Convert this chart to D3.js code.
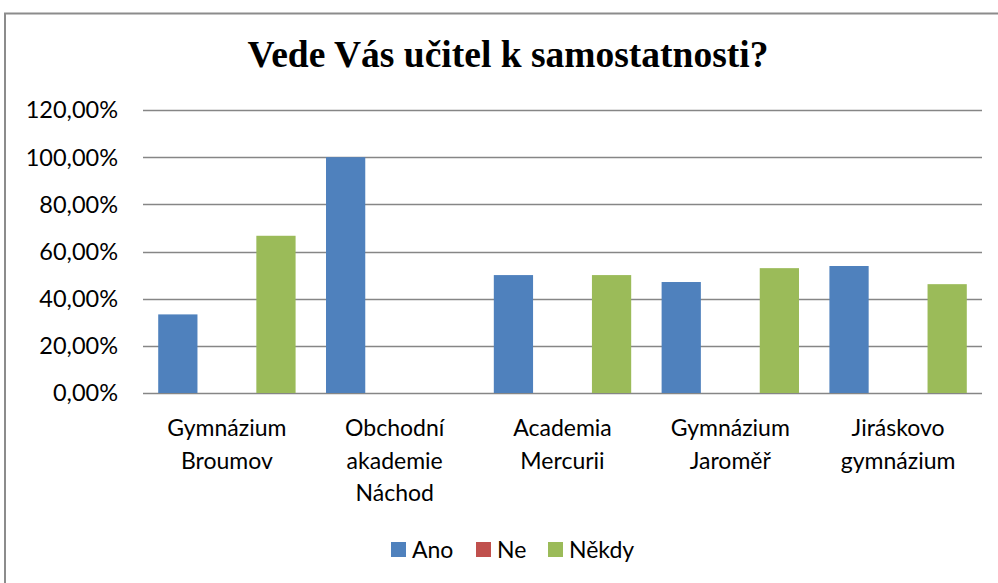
<!DOCTYPE html>
<html>
<head>
<meta charset="utf-8">
<script src="https://cdn.jsdelivr.net/npm/d3@7.9.0/dist/d3.min.js"></script>
<style>
  body { margin: 0; background: #fff; }
  svg { display: block; }
</style>
</head>
<body>
<svg width="998" height="583"></svg>
<script>
const schools = [
  ['Gymnázium', 'Broumov'],
  ['Obchodní', 'akademie', 'Náchod'],
  ['Academia', 'Mercurii'],
  ['Gymnázium', 'Jaroměř'],
  ['Jiráskovo', 'gymnázium']
];
const seriesNames = ['Ano', 'Ne', 'Někdy'];
const ano = [0.3333, 1.0, 0.5, 0.4706, 0.5385];
const ne = [0, 0, 0, 0, 0];
const nekdy = [0.6667, 0, 0.5, 0.5294, 0.4615];
const yTicks = [0, 0.2, 0.4, 0.6, 0.8, 1.0, 1.2];
const colors = ['#4F81BD', '#C0504D', '#9BBB59'];

const svg = d3.select('svg');
const font = 'Lato, "Open Sans", sans-serif';

// frame of the chart area
svg.append('path')
  .attr('d', 'M5,600 V13.5 H1010')
  .attr('fill', 'none')
  .attr('stroke', '#8c8c8c')
  .attr('stroke-width', 2);

svg.append('text')
  .attr('x', 508).attr('y', 67)
  .attr('text-anchor', 'middle')
  .attr('font-family', '"Liberation Serif", "Times New Roman", serif')
  .attr('font-weight', 'bold')
  .attr('font-size', 37.5)
  .text('Vede Vás učitel k samostatnosti?');

const plotL = 143, plotR = 982, plotT = 110, plotB = 393;

const x0 = d3.scaleBand().domain(d3.range(schools.length)).range([plotL, plotR]);
const x1 = d3.scaleBand().domain(seriesNames).range([0, x0.bandwidth()])
  .paddingInner(0.2).paddingOuter(0.31);
const y = d3.scaleLinear().domain([0, 1.2]).range([plotB, plotT]);

const cz = d3.formatLocale({ decimal: ',', thousands: ' ', grouping: [3], currency: ['', ' Kč'] });
const pct = cz.format('.2%');

// gridlines
svg.append('g')
  .selectAll('line')
  .data(yTicks)
  .join('line')
  .attr('x1', plotL).attr('x2', plotR)
  .attr('y1', d => Math.round(y(d)) + 0.5).attr('y2', d => Math.round(y(d)) + 0.5)
  .attr('stroke', '#868686')
  .attr('stroke-width', 1.5);

// y labels
svg.append('g')
  .selectAll('text')
  .data(yTicks)
  .join('text')
  .attr('x', 118)
  .attr('y', d => y(d))
  .attr('dy', '0.36em')
  .attr('text-anchor', 'end')
  .attr('font-family', font)
  .attr('font-size', 23.5)
  .attr('fill', '#000')
  .text(d => pct(d));

const values = [ano, ne, nekdy];
const bars = [];
schools.forEach((s, i) => {
  seriesNames.forEach((name, j) => {
    bars.push({ i, name, v: values[j][i], color: colors[j] });
  });
});

svg.append('g')
  .selectAll('rect')
  .data(bars)
  .join('rect')
  .attr('x', d => x0(d.i) + x1(d.name))
  .attr('width', x1.bandwidth())
  .attr('y', d => y(d.v))
  .attr('height', d => y(0) - y(d.v))
  .attr('fill', d => d.color);

// x labels
const xl = svg.append('g')
  .selectAll('text')
  .data(schools)
  .join('text')
  .attr('text-anchor', 'middle')
  .attr('font-family', font)
  .attr('font-size', 23)
  .attr('fill', '#000');
xl.selectAll('tspan')
  .data((d, i) => d.map(line => ({ line, i })))
  .join('tspan')
  .attr('x', d => x0(d.i) + x0.bandwidth() / 2)
  .attr('y', (d, k) => 436 + k * 32.5)
  .text(d => d.line);

// legend
const legendX = [391, 476, 548];
const lg = svg.append('g')
  .selectAll('g')
  .data(seriesNames)
  .join('g')
  .attr('transform', (d, j) => `translate(${legendX[j]},542)`);
lg.append('rect')
  .attr('width', 15).attr('height', 15)
  .attr('fill', (d, j) => colors[j]);
lg.append('text')
  .attr('x', 21).attr('y', 16)
  .attr('font-family', font)
  .attr('font-size', 23)
  .text(d => d);
</script>
</body>
</html>
